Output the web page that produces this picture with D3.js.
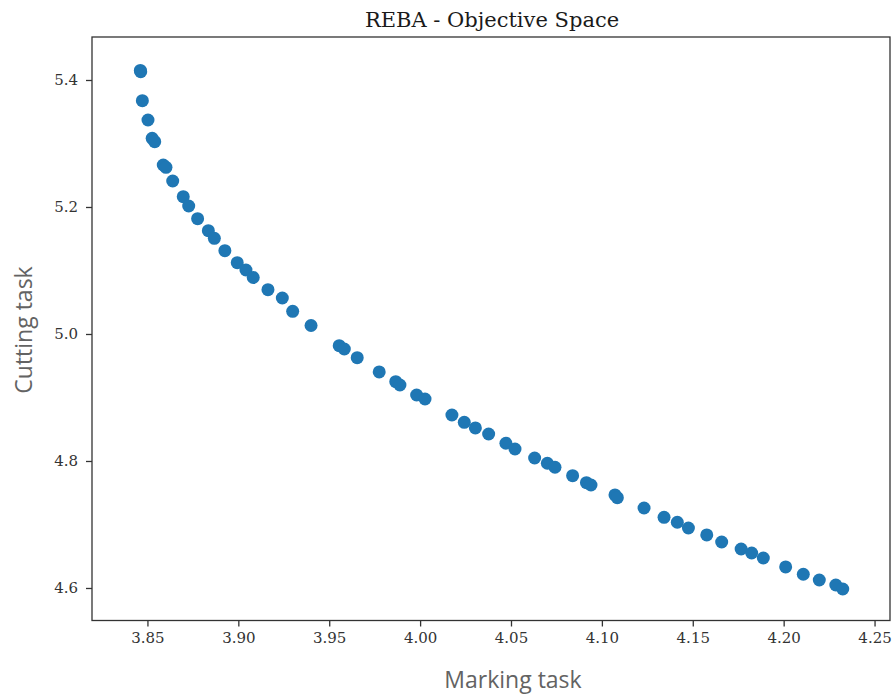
<!DOCTYPE html>
<html lang="en">
<meta charset="utf-8">
<head>
    <script src="https://d3js.org/d3.v7.min.js"></script>
    <style>
        body { margin: 0; background: #fff; }
    </style>
</head>
<body>
<script>
// marking task (x) and cutting task (y) REBA scores
const marking = [
    3.8461, 3.8463, 3.8472, 3.8503, 3.8526, 3.8540, 3.8587, 3.8602, 3.8639, 3.8697,
    3.8727, 3.8776, 3.8835, 3.8868, 3.8926, 3.8994, 3.9042, 3.9082, 3.9163, 3.9242,
    3.9299, 3.9400, 3.9555, 3.9583, 3.9654, 3.9775, 3.9866, 3.9889, 3.9981, 4.0027,
    4.0175, 4.0243, 4.0304, 4.0377, 4.0472, 4.0522, 4.0630, 4.0700, 4.0742, 4.0839,
    4.0915, 4.0940, 4.1072, 4.1085, 4.1232, 4.1342, 4.1415, 4.1476, 4.1577, 4.1659,
    4.1766, 4.1824, 4.1888, 4.2011, 4.2108, 4.2196, 4.2287, 4.2325
];
const cutting = [
    5.4150, 5.4131, 5.3674, 5.3370, 5.3082, 5.3028, 5.2661, 5.2625, 5.2409, 5.2162,
    5.2016, 5.1816, 5.1627, 5.1507, 5.1312, 5.1123, 5.1008, 5.0890, 5.0698, 5.0567,
    5.0357, 5.0134, 4.9816, 4.9764, 4.9627, 4.9402, 4.9249, 4.9197, 4.9039, 4.8976,
    4.8724, 4.8609, 4.8520, 4.8425, 4.8279, 4.8189, 4.8047, 4.7964, 4.7901, 4.7769,
    4.7658, 4.7622, 4.7465, 4.7422, 4.7260, 4.7113, 4.7035, 4.6945, 4.6835, 4.6724,
    4.6614, 4.6551, 4.6472, 4.6331, 4.6216, 4.6126, 4.6047, 4.5984
];
const xTicks = [3.85, 3.90, 3.95, 4.00, 4.05, 4.10, 4.15, 4.20, 4.25];
const yTicks = [4.6, 4.8, 5.0, 5.2, 5.4];

const W = 896, H = 700;
const plot = {left: 92, right: 890, top: 37, bottom: 620.5};

const svg = d3.select("body").append("svg")
    .attr("width", W)
    .attr("height", H);

const x = d3.scaleLinear()
    .domain([3.8195, 4.2585])
    .range([plot.left, plot.right]);

const y = d3.scaleLinear()
    .domain([4.5488, 5.4677])
    .range([plot.bottom, plot.top]);

// title
svg.append("text")
    .attr("x", 492)
    .attr("y", 27)
    .attr("text-anchor", "middle")
    .style("font-family", "DejaVu Serif")
    .style("font-size", "21px")
    .style("fill", "#1a1a1a")
    .text("REBA - Objective Space");

// axes
const xAxis = svg.append("g")
    .attr("transform", "translate(0," + plot.bottom + ")")
    .call(d3.axisBottom(x).tickValues(xTicks).tickFormat(d3.format(".2f")).tickSize(6).tickSizeOuter(0));
const yAxis = svg.append("g")
    .attr("transform", "translate(" + plot.left + ",0)")
    .call(d3.axisLeft(y).tickValues(yTicks).tickFormat(d3.format(".1f")).tickSize(6).tickSizeOuter(0));

[xAxis, yAxis].forEach(function(a) {
    a.select(".domain").remove();
    a.selectAll("line").attr("stroke", "#333").attr("stroke-width", 1.3);
    a.selectAll("text")
        .style("font-family", "DejaVu Serif")
        .style("font-size", "15px")
        .style("fill", "#333");
});
xAxis.selectAll("text").attr("dy", "0.9em");
yAxis.selectAll("text").attr("x", -14);

// frame
svg.append("rect")
    .attr("x", plot.left)
    .attr("y", plot.top)
    .attr("width", plot.right - plot.left)
    .attr("height", plot.bottom - plot.top)
    .attr("fill", "none")
    .attr("stroke", "#333")
    .attr("stroke-width", 1.3);

// points
svg.append("g")
    .selectAll("circle")
    .data(d3.range(marking.length))
    .enter()
    .append("circle")
    .attr("cx", function(i) { return x(marking[i]); })
    .attr("cy", function(i) { return y(cutting[i]); })
    .attr("r", 6.5)
    .attr("fill", "#1f77b4");

// axis labels
svg.append("text")
    .attr("x", 513)
    .attr("y", 688)
    .attr("text-anchor", "middle")
    .style("font-family", "Open Sans")
    .style("font-size", "23px")
    .style("fill", "#636363")
    .text("Marking task");

svg.append("text")
    .attr("transform", "translate(32,330) rotate(-90)")
    .attr("text-anchor", "middle")
    .style("font-family", "Open Sans")
    .style("font-size", "23px")
    .style("fill", "#636363")
    .text("Cutting task");
</script>
</body>
</html>
